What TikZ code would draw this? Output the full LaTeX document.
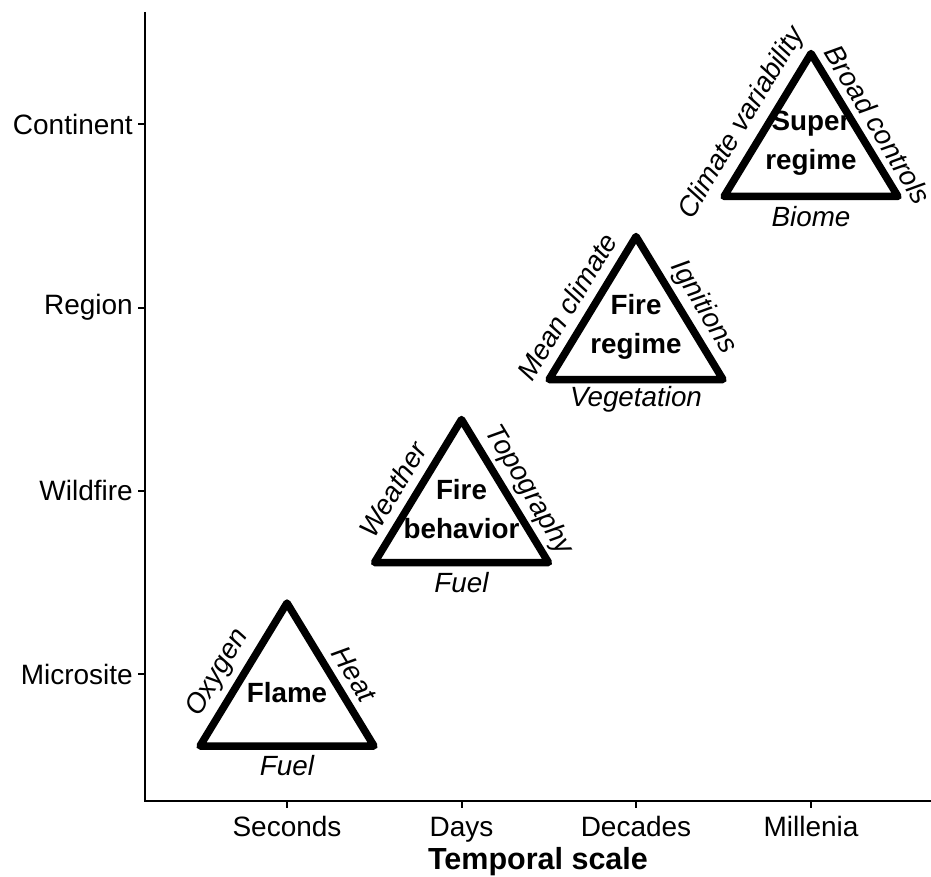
\documentclass[tikz,border=0pt]{standalone}
\usepackage{fontspec}
\setmainfont{Liberation Sans}
\begin{document}
\begin{tikzpicture}[x=1pt,y=-1pt,
  tri/.style={line width=7.5pt, line join=round},
  ax/.style={line width=2pt},
  ticklab/.style={inner sep=0pt, font=\fontsize{28}{32}\selectfont},
  inlab/.style={inner sep=0pt, font=\fontsize{27.8}{39}\selectfont\bfseries, align=center},
  sidelab/.style={inner sep=0pt, font=\fontsize{27.8}{32}\selectfont\itshape},
  titlelab/.style={inner sep=0pt, font=\fontsize{30.5}{34}\selectfont\bfseries}]
\useasboundingbox (0,0) rectangle (931,877);
% axes
\coordinate (ytop) at (145,12);
\coordinate (orig) at (145,801);
\coordinate (xend) at (931,801);
\draw[ax] (ytop) -- (orig) -- (xend);
% y ticks
\foreach \yy/\lab/\nm in {124.5/Continent/yc, 307.5/Region/yr, 490.5/Wildfire/yw, 674/Microsite/ym}{
  \coordinate (\nm t) at (145,\yy);
  \draw[ax] (\nm t) -- ++(-7,0);
  \node[ticklab, anchor=east] (\nm) at (133,\yy) {\lab};
}
% x ticks
\foreach \xx/\lab/\nm in {287/Seconds/xs, 461.5/Days/xd, 636/Decades/xc, 811/Millenia/xm}{
  \coordinate (\nm t) at (\xx,801);
  \draw[ax] (\nm t) -- ++(0,7);
  \node[ticklab, anchor=base] (\nm) at (\xx,836) {\lab};
}
\node[titlelab, anchor=base] (title) at (538,869) {Temporal scale};
% triangles
\foreach \cx/\cy/\nm/\inl/\lft/\rgt/\bot in {
  287/674/t1/{Flame}/{Oxygen}/{Heat}/{Fuel},
  461.5/490.5/t2/{Fire\\behavior}/{Weather}/{Topography}/{Fuel},
  636/307.5/t3/{Fire\\regime}/{Mean climate}/{Ignitions}/{Vegetation},
  811/124.5/t4/{Super\\regime}/{Climate variability}/{Broad controls}/{Biome}}{
  \coordinate (\nm a) at (\cx,\cy-71);
  \coordinate (\nm l) at (\cx-87,\cy+72);
  \coordinate (\nm r) at (\cx+87,\cy+72);
  \draw[tri] (\nm a) -- (\nm l) -- (\nm r) -- cycle;
  \node[inlab] (\nm in) at (\cx,\cy+19) {\inl};
  \node[sidelab, rotate=59] (\nm lf) at (\cx-69,\cy-1) {\lft};
  \node[sidelab, rotate=-59] (\nm rt) at (\cx+67,\cy) {\rgt};
  \node[sidelab] (\nm bt) at (\cx,\cy+92) {\bot};
}
\end{tikzpicture}
\end{document}
